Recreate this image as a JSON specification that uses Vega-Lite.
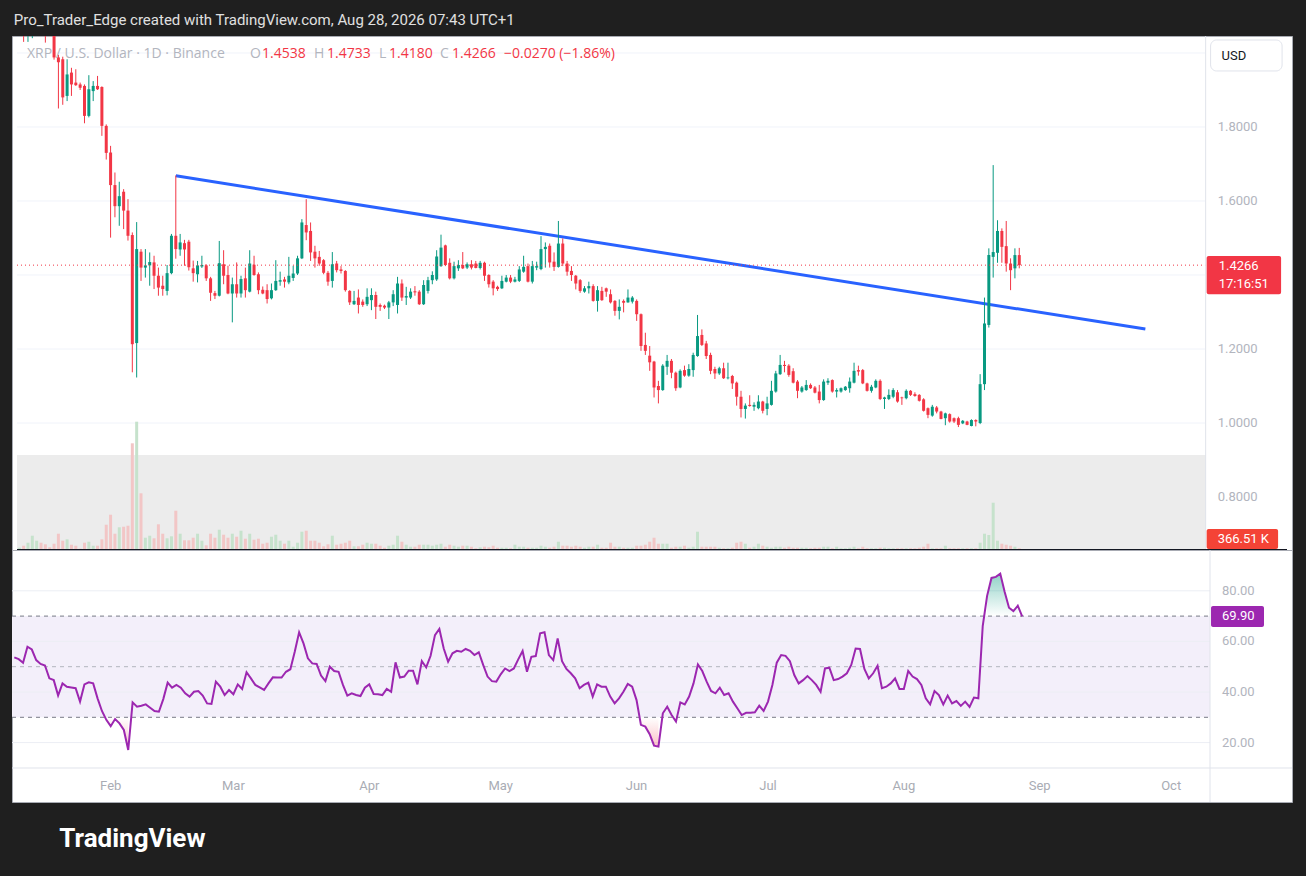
{
  "$schema": "https://vega.github.io/schema/vega-lite/v6.json",
  "background": "#1f1f1f",
  "padding": {"left": 9, "right": 13, "top": 13, "bottom": 24},
  "title": {"text": "Pro_Trader_Edge created with TradingView.com, Aug 28, 2026 07:43 UTC+1", "anchor": "start", "fontSize": 15, "fontWeight": "normal", "color": "#e0e0e0", "font": "Roboto", "offset": 7, "dx": 4},
  "config": {
    "view": {"fill": "white", "stroke": "#a8abb3", "strokeWidth": 1},
    "font": "Roboto",
    "text": {"font": "Roboto"}
  },
  "spacing": 0,
  "bounds": "flush",
  "datasets": {
    "xrp": [
      {"date":"2026-01-10","o":2.10,"h":2.14,"l":2.06,"c":2.12,"v":495,"rsi":53.7},
      {"date":"2026-01-11","o":2.12,"h":2.15,"l":2.03,"c":2.07,"v":925,"rsi":53.0},
      {"date":"2026-01-12","o":2.07,"h":2.11,"l":2.03,"c":2.09,"v":1570,"rsi":51.6},
      {"date":"2026-01-13","o":2.09,"h":2.16,"l":2.04,"c":2.14,"v":3075,"rsi":57.9},
      {"date":"2026-01-14","o":2.14,"h":2.22,"l":2.11,"c":2.18,"v":2000,"rsi":56.8},
      {"date":"2026-01-15","o":2.18,"h":2.20,"l":2.08,"c":2.10,"v":1570,"rsi":52.6},
      {"date":"2026-01-16","o":2.10,"h":2.13,"l":2.028,"c":2.07,"v":1225,"rsi":51.1},
      {"date":"2026-01-17","o":2.07,"h":2.10,"l":2.05,"c":2.06,"v":580,"rsi":50.5},
      {"date":"2026-01-18","o":2.06,"h":2.08,"l":1.982,"c":1.988,"v":1355,"rsi":45.4},
      {"date":"2026-01-19","o":1.988,"h":1.995,"l":1.850,"c":1.975,"v":3505,"rsi":44.7},
      {"date":"2026-01-20","o":1.983,"h":1.990,"l":1.860,"c":1.880,"v":2000,"rsi":38.6},
      {"date":"2026-01-21","o":1.884,"h":1.983,"l":1.870,"c":1.942,"v":2300,"rsi":43.4},
      {"date":"2026-01-22","o":1.947,"h":1.960,"l":1.884,"c":1.915,"v":1140,"rsi":42.1},
      {"date":"2026-01-23","o":1.920,"h":1.956,"l":1.911,"c":1.913,"v":925,"rsi":41.8},
      {"date":"2026-01-24","o":1.915,"h":1.920,"l":1.900,"c":1.906,"v":280,"rsi":41.5},
      {"date":"2026-01-25","o":1.911,"h":1.915,"l":1.810,"c":1.830,"v":1570,"rsi":36.2},
      {"date":"2026-01-26","o":1.830,"h":1.940,"l":1.826,"c":1.902,"v":1785,"rsi":43.0},
      {"date":"2026-01-27","o":1.897,"h":1.924,"l":1.870,"c":1.911,"v":925,"rsi":43.8},
      {"date":"2026-01-28","o":1.911,"h":1.938,"l":1.900,"c":1.902,"v":925,"rsi":43.4},
      {"date":"2026-01-29","o":1.908,"h":1.910,"l":1.776,"c":1.803,"v":2300,"rsi":37.5},
      {"date":"2026-01-30","o":1.803,"h":1.807,"l":1.712,"c":1.730,"v":5440,"rsi":32.5},
      {"date":"2026-01-31","o":1.731,"h":1.749,"l":1.501,"c":1.643,"v":7590,"rsi":29.0},
      {"date":"2026-02-01","o":1.643,"h":1.677,"l":1.556,"c":1.586,"v":3505,"rsi":26.5},
      {"date":"2026-02-02","o":1.586,"h":1.652,"l":1.533,"c":1.613,"v":4880,"rsi":29.3},
      {"date":"2026-02-03","o":1.625,"h":1.632,"l":1.524,"c":1.574,"v":5010,"rsi":27.6},
      {"date":"2026-02-04","o":1.574,"h":1.605,"l":1.493,"c":1.506,"v":5225,"rsi":25.0},
      {"date":"2026-02-05","o":1.508,"h":1.515,"l":1.137,"c":1.213,"v":22940,"rsi":17.1},
      {"date":"2026-02-06","o":1.216,"h":1.543,"l":1.123,"c":1.470,"v":27585,"rsi":35.9},
      {"date":"2026-02-07","o":1.463,"h":1.470,"l":1.384,"c":1.420,"v":12190,"rsi":34.2},
      {"date":"2026-02-08","o":1.420,"h":1.470,"l":1.393,"c":1.426,"v":2645,"rsi":34.6},
      {"date":"2026-02-09","o":1.426,"h":1.461,"l":1.371,"c":1.435,"v":3075,"rsi":35.1},
      {"date":"2026-02-10","o":1.434,"h":1.452,"l":1.362,"c":1.398,"v":2515,"rsi":33.8},
      {"date":"2026-02-11","o":1.398,"h":1.420,"l":1.344,"c":1.366,"v":5525,"rsi":32.5},
      {"date":"2026-02-12","o":1.371,"h":1.398,"l":1.344,"c":1.362,"v":3505,"rsi":32.2},
      {"date":"2026-02-13","o":1.357,"h":1.427,"l":1.345,"c":1.405,"v":2515,"rsi":37.2},
      {"date":"2026-02-14","o":1.405,"h":1.511,"l":1.402,"c":1.506,"v":2945,"rsi":43.7},
      {"date":"2026-02-15","o":1.506,"h":1.669,"l":1.444,"c":1.470,"v":8450,"rsi":41.7},
      {"date":"2026-02-16","o":1.469,"h":1.511,"l":1.452,"c":1.488,"v":3505,"rsi":42.8},
      {"date":"2026-02-17","o":1.486,"h":1.495,"l":1.425,"c":1.469,"v":2085,"rsi":41.7},
      {"date":"2026-02-18","o":1.490,"h":1.495,"l":1.412,"c":1.421,"v":2085,"rsi":39.5},
      {"date":"2026-02-19","o":1.418,"h":1.439,"l":1.382,"c":1.405,"v":2645,"rsi":38.2},
      {"date":"2026-02-20","o":1.402,"h":1.438,"l":1.380,"c":1.426,"v":3505,"rsi":40.1},
      {"date":"2026-02-21","o":1.423,"h":1.452,"l":1.419,"c":1.427,"v":2000,"rsi":40.4},
      {"date":"2026-02-22","o":1.426,"h":1.429,"l":1.384,"c":1.391,"v":1010,"rsi":38.6},
      {"date":"2026-02-23","o":1.391,"h":1.395,"l":1.330,"c":1.352,"v":3505,"rsi":35.5},
      {"date":"2026-02-24","o":1.351,"h":1.357,"l":1.335,"c":1.344,"v":2645,"rsi":35.3},
      {"date":"2026-02-25","o":1.344,"h":1.492,"l":1.342,"c":1.432,"v":4365,"rsi":44.1},
      {"date":"2026-02-26","o":1.429,"h":1.467,"l":1.375,"c":1.398,"v":3290,"rsi":42.1},
      {"date":"2026-02-27","o":1.400,"h":1.425,"l":1.348,"c":1.350,"v":2645,"rsi":38.8},
      {"date":"2026-02-28","o":1.350,"h":1.393,"l":1.272,"c":1.375,"v":3505,"rsi":40.8},
      {"date":"2026-03-01","o":1.375,"h":1.434,"l":1.339,"c":1.350,"v":2860,"rsi":39.1},
      {"date":"2026-03-02","o":1.350,"h":1.398,"l":1.339,"c":1.389,"v":4150,"rsi":43.0},
      {"date":"2026-03-03","o":1.391,"h":1.420,"l":1.339,"c":1.359,"v":2430,"rsi":41.2},
      {"date":"2026-03-04","o":1.355,"h":1.467,"l":1.353,"c":1.431,"v":3505,"rsi":47.8},
      {"date":"2026-03-05","o":1.428,"h":1.452,"l":1.398,"c":1.400,"v":2215,"rsi":45.4},
      {"date":"2026-03-06","o":1.402,"h":1.407,"l":1.348,"c":1.359,"v":2430,"rsi":42.8},
      {"date":"2026-03-07","o":1.360,"h":1.369,"l":1.348,"c":1.350,"v":1355,"rsi":41.8},
      {"date":"2026-03-08","o":1.359,"h":1.375,"l":1.323,"c":1.335,"v":1570,"rsi":40.8},
      {"date":"2026-03-09","o":1.337,"h":1.377,"l":1.334,"c":1.359,"v":2860,"rsi":43.4},
      {"date":"2026-03-10","o":1.359,"h":1.440,"l":1.357,"c":1.384,"v":3290,"rsi":45.8},
      {"date":"2026-03-11","o":1.382,"h":1.409,"l":1.371,"c":1.386,"v":2000,"rsi":45.7},
      {"date":"2026-03-12","o":1.388,"h":1.395,"l":1.366,"c":1.382,"v":1355,"rsi":45.7},
      {"date":"2026-03-13","o":1.380,"h":1.449,"l":1.375,"c":1.398,"v":2000,"rsi":48.0},
      {"date":"2026-03-14","o":1.392,"h":1.425,"l":1.384,"c":1.404,"v":710,"rsi":49.0},
      {"date":"2026-03-15","o":1.404,"h":1.452,"l":1.400,"c":1.445,"v":1570,"rsi":55.9},
      {"date":"2026-03-16","o":1.445,"h":1.551,"l":1.443,"c":1.542,"v":3935,"rsi":63.6},
      {"date":"2026-03-17","o":1.535,"h":1.605,"l":1.494,"c":1.515,"v":4150,"rsi":59.2},
      {"date":"2026-03-18","o":1.519,"h":1.542,"l":1.438,"c":1.461,"v":2000,"rsi":53.3},
      {"date":"2026-03-19","o":1.463,"h":1.479,"l":1.420,"c":1.445,"v":2000,"rsi":51.3},
      {"date":"2026-03-20","o":1.449,"h":1.465,"l":1.425,"c":1.431,"v":1570,"rsi":51.1},
      {"date":"2026-03-21","o":1.440,"h":1.443,"l":1.402,"c":1.406,"v":795,"rsi":46.5},
      {"date":"2026-03-22","o":1.406,"h":1.411,"l":1.371,"c":1.382,"v":1225,"rsi":44.3},
      {"date":"2026-03-23","o":1.384,"h":1.462,"l":1.366,"c":1.429,"v":3075,"rsi":50.0},
      {"date":"2026-03-24","o":1.431,"h":1.438,"l":1.407,"c":1.413,"v":1140,"rsi":48.3},
      {"date":"2026-03-25","o":1.415,"h":1.424,"l":1.404,"c":1.411,"v":1355,"rsi":48.0},
      {"date":"2026-03-26","o":1.411,"h":1.413,"l":1.355,"c":1.359,"v":1570,"rsi":42.8},
      {"date":"2026-03-27","o":1.357,"h":1.359,"l":1.319,"c":1.326,"v":2000,"rsi":38.6},
      {"date":"2026-03-28","o":1.321,"h":1.357,"l":1.319,"c":1.330,"v":795,"rsi":39.5},
      {"date":"2026-03-29","o":1.339,"h":1.361,"l":1.296,"c":1.319,"v":795,"rsi":38.8},
      {"date":"2026-03-30","o":1.328,"h":1.334,"l":1.314,"c":1.319,"v":1140,"rsi":38.4},
      {"date":"2026-03-31","o":1.321,"h":1.364,"l":1.316,"c":1.341,"v":1570,"rsi":41.7},
      {"date":"2026-04-01","o":1.332,"h":1.364,"l":1.305,"c":1.346,"v":1355,"rsi":43.0},
      {"date":"2026-04-02","o":1.346,"h":1.355,"l":1.281,"c":1.314,"v":1355,"rsi":39.2},
      {"date":"2026-04-03","o":1.319,"h":1.323,"l":1.303,"c":1.314,"v":925,"rsi":39.1},
      {"date":"2026-04-04","o":1.317,"h":1.320,"l":1.308,"c":1.312,"v":495,"rsi":38.8},
      {"date":"2026-04-05","o":1.312,"h":1.330,"l":1.281,"c":1.326,"v":925,"rsi":41.2},
      {"date":"2026-04-06","o":1.326,"h":1.359,"l":1.316,"c":1.348,"v":1140,"rsi":40.1},
      {"date":"2026-04-07","o":1.319,"h":1.395,"l":1.296,"c":1.377,"v":3075,"rsi":51.7},
      {"date":"2026-04-08","o":1.377,"h":1.388,"l":1.330,"c":1.339,"v":1785,"rsi":45.7},
      {"date":"2026-04-09","o":1.339,"h":1.368,"l":1.319,"c":1.343,"v":1140,"rsi":46.1},
      {"date":"2026-04-10","o":1.339,"h":1.364,"l":1.335,"c":1.355,"v":710,"rsi":48.4},
      {"date":"2026-04-11","o":1.356,"h":1.370,"l":1.344,"c":1.353,"v":710,"rsi":48.4},
      {"date":"2026-04-12","o":1.355,"h":1.359,"l":1.319,"c":1.321,"v":1140,"rsi":43.0},
      {"date":"2026-04-13","o":1.321,"h":1.386,"l":1.319,"c":1.373,"v":1140,"rsi":52.2},
      {"date":"2026-04-14","o":1.357,"h":1.395,"l":1.350,"c":1.386,"v":1140,"rsi":49.7},
      {"date":"2026-04-15","o":1.386,"h":1.410,"l":1.375,"c":1.400,"v":925,"rsi":54.3},
      {"date":"2026-04-16","o":1.388,"h":1.467,"l":1.384,"c":1.450,"v":1140,"rsi":62.5},
      {"date":"2026-04-17","o":1.424,"h":1.509,"l":1.422,"c":1.474,"v":1355,"rsi":64.9},
      {"date":"2026-04-18","o":1.480,"h":1.482,"l":1.424,"c":1.427,"v":710,"rsi":57.2},
      {"date":"2026-04-19","o":1.433,"h":1.445,"l":1.388,"c":1.391,"v":1140,"rsi":52.0},
      {"date":"2026-04-20","o":1.391,"h":1.436,"l":1.388,"c":1.424,"v":925,"rsi":55.3},
      {"date":"2026-04-21","o":1.418,"h":1.440,"l":1.411,"c":1.427,"v":710,"rsi":56.3},
      {"date":"2026-04-22","o":1.427,"h":1.462,"l":1.416,"c":1.418,"v":925,"rsi":55.9},
      {"date":"2026-04-23","o":1.420,"h":1.434,"l":1.416,"c":1.429,"v":925,"rsi":57.0},
      {"date":"2026-04-24","o":1.429,"h":1.440,"l":1.415,"c":1.420,"v":710,"rsi":56.3},
      {"date":"2026-04-25","o":1.431,"h":1.438,"l":1.418,"c":1.419,"v":365,"rsi":54.6},
      {"date":"2026-04-26","o":1.419,"h":1.438,"l":1.415,"c":1.433,"v":580,"rsi":55.7},
      {"date":"2026-04-27","o":1.433,"h":1.436,"l":1.384,"c":1.398,"v":710,"rsi":50.7},
      {"date":"2026-04-28","o":1.400,"h":1.402,"l":1.366,"c":1.375,"v":580,"rsi":46.1},
      {"date":"2026-04-29","o":1.382,"h":1.386,"l":1.345,"c":1.364,"v":925,"rsi":44.3},
      {"date":"2026-04-30","o":1.368,"h":1.371,"l":1.357,"c":1.362,"v":495,"rsi":44.1},
      {"date":"2026-05-01","o":1.364,"h":1.398,"l":1.362,"c":1.384,"v":495,"rsi":47.0},
      {"date":"2026-05-02","o":1.382,"h":1.400,"l":1.380,"c":1.393,"v":495,"rsi":49.3},
      {"date":"2026-05-03","o":1.393,"h":1.400,"l":1.378,"c":1.382,"v":365,"rsi":48.3},
      {"date":"2026-05-04","o":1.382,"h":1.395,"l":1.380,"c":1.388,"v":1140,"rsi":49.3},
      {"date":"2026-05-05","o":1.384,"h":1.424,"l":1.381,"c":1.415,"v":710,"rsi":52.9},
      {"date":"2026-05-06","o":1.409,"h":1.452,"l":1.406,"c":1.422,"v":710,"rsi":56.2},
      {"date":"2026-05-07","o":1.424,"h":1.431,"l":1.380,"c":1.382,"v":495,"rsi":48.0},
      {"date":"2026-05-08","o":1.382,"h":1.438,"l":1.377,"c":1.424,"v":495,"rsi":53.9},
      {"date":"2026-05-09","o":1.420,"h":1.436,"l":1.413,"c":1.424,"v":495,"rsi":54.2},
      {"date":"2026-05-10","o":1.416,"h":1.505,"l":1.413,"c":1.470,"v":925,"rsi":63.2},
      {"date":"2026-05-11","o":1.470,"h":1.488,"l":1.420,"c":1.476,"v":710,"rsi":63.6},
      {"date":"2026-05-12","o":1.479,"h":1.485,"l":1.420,"c":1.434,"v":495,"rsi":54.6},
      {"date":"2026-05-13","o":1.436,"h":1.461,"l":1.411,"c":1.422,"v":710,"rsi":52.6},
      {"date":"2026-05-14","o":1.422,"h":1.546,"l":1.420,"c":1.485,"v":1785,"rsi":61.2},
      {"date":"2026-05-15","o":1.485,"h":1.499,"l":1.424,"c":1.431,"v":925,"rsi":52.2},
      {"date":"2026-05-16","o":1.431,"h":1.438,"l":1.398,"c":1.409,"v":925,"rsi":49.1},
      {"date":"2026-05-17","o":1.411,"h":1.424,"l":1.384,"c":1.400,"v":710,"rsi":47.4},
      {"date":"2026-05-18","o":1.398,"h":1.400,"l":1.361,"c":1.377,"v":925,"rsi":45.4},
      {"date":"2026-05-19","o":1.386,"h":1.389,"l":1.352,"c":1.357,"v":710,"rsi":41.5},
      {"date":"2026-05-20","o":1.355,"h":1.370,"l":1.352,"c":1.364,"v":495,"rsi":42.8},
      {"date":"2026-05-21","o":1.364,"h":1.382,"l":1.350,"c":1.370,"v":710,"rsi":43.7},
      {"date":"2026-05-22","o":1.370,"h":1.375,"l":1.328,"c":1.330,"v":710,"rsi":38.2},
      {"date":"2026-05-23","o":1.330,"h":1.370,"l":1.301,"c":1.359,"v":1140,"rsi":43.0},
      {"date":"2026-05-24","o":1.357,"h":1.368,"l":1.330,"c":1.332,"v":495,"rsi":42.1},
      {"date":"2026-05-25","o":1.364,"h":1.366,"l":1.341,"c":1.355,"v":495,"rsi":42.1},
      {"date":"2026-05-26","o":1.348,"h":1.361,"l":1.323,"c":1.326,"v":1570,"rsi":38.2},
      {"date":"2026-05-27","o":1.330,"h":1.332,"l":1.290,"c":1.303,"v":710,"rsi":35.5},
      {"date":"2026-05-28","o":1.303,"h":1.334,"l":1.280,"c":1.314,"v":710,"rsi":37.5},
      {"date":"2026-05-29","o":1.330,"h":1.334,"l":1.299,"c":1.325,"v":495,"rsi":40.1},
      {"date":"2026-05-30","o":1.326,"h":1.361,"l":1.325,"c":1.339,"v":495,"rsi":43.2},
      {"date":"2026-05-31","o":1.328,"h":1.343,"l":1.323,"c":1.339,"v":495,"rsi":42.1},
      {"date":"2026-06-01","o":1.330,"h":1.334,"l":1.276,"c":1.294,"v":925,"rsi":36.8},
      {"date":"2026-06-02","o":1.294,"h":1.296,"l":1.195,"c":1.208,"v":925,"rsi":27.0},
      {"date":"2026-06-03","o":1.211,"h":1.244,"l":1.184,"c":1.195,"v":1140,"rsi":26.3},
      {"date":"2026-06-04","o":1.182,"h":1.208,"l":1.141,"c":1.164,"v":1785,"rsi":23.3},
      {"date":"2026-06-05","o":1.166,"h":1.168,"l":1.069,"c":1.096,"v":2645,"rsi":18.8},
      {"date":"2026-06-06","o":1.100,"h":1.114,"l":1.053,"c":1.089,"v":1355,"rsi":18.4},
      {"date":"2026-06-07","o":1.089,"h":1.159,"l":1.087,"c":1.155,"v":1355,"rsi":31.6},
      {"date":"2026-06-08","o":1.152,"h":1.184,"l":1.130,"c":1.168,"v":1355,"rsi":34.2},
      {"date":"2026-06-09","o":1.168,"h":1.173,"l":1.121,"c":1.136,"v":495,"rsi":30.9},
      {"date":"2026-06-10","o":1.136,"h":1.139,"l":1.087,"c":1.094,"v":710,"rsi":28.3},
      {"date":"2026-06-11","o":1.096,"h":1.145,"l":1.094,"c":1.141,"v":710,"rsi":35.9},
      {"date":"2026-06-12","o":1.143,"h":1.155,"l":1.125,"c":1.128,"v":925,"rsi":35.1},
      {"date":"2026-06-13","o":1.128,"h":1.159,"l":1.125,"c":1.146,"v":495,"rsi":38.2},
      {"date":"2026-06-14","o":1.143,"h":1.190,"l":1.125,"c":1.184,"v":710,"rsi":43.4},
      {"date":"2026-06-15","o":1.181,"h":1.292,"l":1.179,"c":1.235,"v":3935,"rsi":50.9},
      {"date":"2026-06-16","o":1.238,"h":1.253,"l":1.208,"c":1.211,"v":710,"rsi":48.3},
      {"date":"2026-06-17","o":1.215,"h":1.222,"l":1.173,"c":1.181,"v":710,"rsi":44.1},
      {"date":"2026-06-18","o":1.184,"h":1.190,"l":1.132,"c":1.141,"v":710,"rsi":40.4},
      {"date":"2026-06-19","o":1.146,"h":1.152,"l":1.119,"c":1.134,"v":710,"rsi":39.5},
      {"date":"2026-06-20","o":1.134,"h":1.152,"l":1.130,"c":1.148,"v":495,"rsi":41.7},
      {"date":"2026-06-21","o":1.148,"h":1.163,"l":1.119,"c":1.121,"v":365,"rsi":38.8},
      {"date":"2026-06-22","o":1.121,"h":1.163,"l":1.118,"c":1.123,"v":365,"rsi":39.5},
      {"date":"2026-06-23","o":1.127,"h":1.130,"l":1.092,"c":1.107,"v":495,"rsi":36.2},
      {"date":"2026-06-24","o":1.109,"h":1.112,"l":1.047,"c":1.071,"v":1570,"rsi":33.6},
      {"date":"2026-06-25","o":1.071,"h":1.087,"l":1.015,"c":1.038,"v":1785,"rsi":30.9},
      {"date":"2026-06-26","o":1.038,"h":1.053,"l":1.012,"c":1.047,"v":1355,"rsi":31.8},
      {"date":"2026-06-27","o":1.049,"h":1.075,"l":1.044,"c":1.046,"v":495,"rsi":31.8},
      {"date":"2026-06-28","o":1.044,"h":1.056,"l":1.033,"c":1.049,"v":710,"rsi":32.0},
      {"date":"2026-06-29","o":1.040,"h":1.075,"l":1.037,"c":1.058,"v":1355,"rsi":34.6},
      {"date":"2026-06-30","o":1.058,"h":1.060,"l":1.026,"c":1.033,"v":925,"rsi":32.5},
      {"date":"2026-07-01","o":1.038,"h":1.071,"l":1.021,"c":1.053,"v":710,"rsi":36.2},
      {"date":"2026-07-02","o":1.049,"h":1.114,"l":1.047,"c":1.087,"v":495,"rsi":42.8},
      {"date":"2026-07-03","o":1.085,"h":1.141,"l":1.082,"c":1.134,"v":710,"rsi":51.6},
      {"date":"2026-07-04","o":1.132,"h":1.184,"l":1.130,"c":1.157,"v":710,"rsi":54.6},
      {"date":"2026-07-05","o":1.157,"h":1.168,"l":1.137,"c":1.154,"v":495,"rsi":54.3},
      {"date":"2026-07-06","o":1.155,"h":1.159,"l":1.125,"c":1.130,"v":710,"rsi":52.2},
      {"date":"2026-07-07","o":1.140,"h":1.148,"l":1.107,"c":1.109,"v":495,"rsi":46.7},
      {"date":"2026-07-08","o":1.112,"h":1.116,"l":1.067,"c":1.087,"v":495,"rsi":43.4},
      {"date":"2026-07-09","o":1.085,"h":1.100,"l":1.082,"c":1.096,"v":495,"rsi":44.7},
      {"date":"2026-07-10","o":1.089,"h":1.116,"l":1.087,"c":1.103,"v":495,"rsi":46.3},
      {"date":"2026-07-11","o":1.103,"h":1.107,"l":1.092,"c":1.094,"v":365,"rsi":44.7},
      {"date":"2026-07-12","o":1.096,"h":1.100,"l":1.080,"c":1.082,"v":495,"rsi":42.8},
      {"date":"2026-07-13","o":1.085,"h":1.103,"l":1.053,"c":1.062,"v":495,"rsi":40.1},
      {"date":"2026-07-14","o":1.062,"h":1.118,"l":1.060,"c":1.112,"v":710,"rsi":49.3},
      {"date":"2026-07-15","o":1.109,"h":1.121,"l":1.103,"c":1.114,"v":710,"rsi":49.6},
      {"date":"2026-07-16","o":1.116,"h":1.118,"l":1.082,"c":1.085,"v":365,"rsi":44.7},
      {"date":"2026-07-17","o":1.085,"h":1.094,"l":1.069,"c":1.089,"v":710,"rsi":45.1},
      {"date":"2026-07-18","o":1.085,"h":1.096,"l":1.082,"c":1.094,"v":365,"rsi":46.1},
      {"date":"2026-07-19","o":1.089,"h":1.100,"l":1.087,"c":1.098,"v":365,"rsi":47.4},
      {"date":"2026-07-20","o":1.094,"h":1.123,"l":1.082,"c":1.112,"v":495,"rsi":50.7},
      {"date":"2026-07-21","o":1.109,"h":1.163,"l":1.107,"c":1.141,"v":710,"rsi":57.2},
      {"date":"2026-07-22","o":1.143,"h":1.155,"l":1.128,"c":1.139,"v":365,"rsi":57.0},
      {"date":"2026-07-23","o":1.143,"h":1.146,"l":1.105,"c":1.107,"v":710,"rsi":49.1},
      {"date":"2026-07-24","o":1.107,"h":1.109,"l":1.085,"c":1.087,"v":365,"rsi":45.4},
      {"date":"2026-07-25","o":1.087,"h":1.103,"l":1.082,"c":1.098,"v":365,"rsi":47.4},
      {"date":"2026-07-26","o":1.096,"h":1.118,"l":1.094,"c":1.114,"v":365,"rsi":50.4},
      {"date":"2026-07-27","o":1.114,"h":1.118,"l":1.062,"c":1.065,"v":495,"rsi":41.5},
      {"date":"2026-07-28","o":1.065,"h":1.071,"l":1.038,"c":1.069,"v":495,"rsi":42.1},
      {"date":"2026-07-29","o":1.065,"h":1.091,"l":1.062,"c":1.076,"v":365,"rsi":43.4},
      {"date":"2026-07-30","o":1.071,"h":1.094,"l":1.067,"c":1.089,"v":365,"rsi":45.4},
      {"date":"2026-07-31","o":1.083,"h":1.089,"l":1.055,"c":1.058,"v":365,"rsi":41.2},
      {"date":"2026-08-01","o":1.069,"h":1.071,"l":1.049,"c":1.067,"v":365,"rsi":41.2},
      {"date":"2026-08-02","o":1.067,"h":1.091,"l":1.064,"c":1.087,"v":365,"rsi":48.3},
      {"date":"2026-08-03","o":1.087,"h":1.089,"l":1.073,"c":1.076,"v":365,"rsi":46.1},
      {"date":"2026-08-04","o":1.078,"h":1.083,"l":1.071,"c":1.073,"v":365,"rsi":45.1},
      {"date":"2026-08-05","o":1.076,"h":1.078,"l":1.058,"c":1.060,"v":495,"rsi":42.8},
      {"date":"2026-08-06","o":1.064,"h":1.067,"l":1.031,"c":1.033,"v":710,"rsi":37.5},
      {"date":"2026-08-07","o":1.040,"h":1.042,"l":1.013,"c":1.022,"v":1355,"rsi":35.1},
      {"date":"2026-08-08","o":1.020,"h":1.049,"l":1.017,"c":1.044,"v":365,"rsi":40.4},
      {"date":"2026-08-09","o":1.042,"h":1.046,"l":1.026,"c":1.031,"v":365,"rsi":38.8},
      {"date":"2026-08-10","o":1.031,"h":1.033,"l":1.010,"c":1.011,"v":365,"rsi":35.1},
      {"date":"2026-08-11","o":1.013,"h":1.028,"l":0.994,"c":1.026,"v":925,"rsi":38.6},
      {"date":"2026-08-12","o":1.024,"h":1.026,"l":1.001,"c":1.004,"v":365,"rsi":35.5},
      {"date":"2026-08-13","o":1.013,"h":1.015,"l":1.000,"c":1.004,"v":365,"rsi":36.4},
      {"date":"2026-08-14","o":1.013,"h":1.017,"l":0.989,"c":0.995,"v":365,"rsi":34.5},
      {"date":"2026-08-15","o":0.999,"h":1.008,"l":0.997,"c":1.006,"v":365,"rsi":36.2},
      {"date":"2026-08-16","o":1.004,"h":1.006,"l":0.994,"c":0.995,"v":365,"rsi":34.1},
      {"date":"2026-08-17","o":0.992,"h":1.010,"l":0.991,"c":1.008,"v":365,"rsi":37.8},
      {"date":"2026-08-18","o":1.008,"h":1.010,"l":0.991,"c":1.004,"v":365,"rsi":37.5},
      {"date":"2026-08-19","o":1.000,"h":1.132,"l":0.997,"c":1.105,"v":1570,"rsi":66.0},
      {"date":"2026-08-20","o":1.105,"h":1.339,"l":1.089,"c":1.269,"v":3505,"rsi":78.0},
      {"date":"2026-08-21","o":1.265,"h":1.472,"l":1.258,"c":1.454,"v":3225,"rsi":85.1},
      {"date":"2026-08-22","o":1.449,"h":1.697,"l":1.393,"c":1.462,"v":10170,"rsi":85.5},
      {"date":"2026-08-23","o":1.460,"h":1.548,"l":1.433,"c":1.519,"v":2000,"rsi":86.8},
      {"date":"2026-08-24","o":1.519,"h":1.526,"l":1.433,"c":1.476,"v":1355,"rsi":79.6},
      {"date":"2026-08-25","o":1.478,"h":1.546,"l":1.409,"c":1.431,"v":1140,"rsi":73.3},
      {"date":"2026-08-26","o":1.431,"h":1.445,"l":1.359,"c":1.413,"v":925,"rsi":72.0},
      {"date":"2026-08-27","o":1.418,"h":1.472,"l":1.391,"c":1.4538,"v":710,"rsi":74.1},
      {"date":"2026-08-28","o":1.4538,"h":1.4733,"l":1.4180,"c":1.4266,"v":366.51,"rsi":69.9}
    ]
  },
  "vconcat": [
    {
      "width": 1280,
      "height": 514,
      "layer": [
        {
          "data": {"values": [{"p": 0.8}, {"p": 1.0}, {"p": 1.2}, {"p": 1.4}, {"p": 1.6}, {"p": 1.8}, {"p": 2.0}]},
          "layer": [
            {
              "mark": {"type": "rule", "color": "#f0f3fa", "strokeWidth": 1},
              "encoding": {
                "x": {"datum": {"year": 2026, "month": 1, "date": 9, "hours": 11, "minutes": 25, "utc": true}, "type": "temporal", "scale": {"type": "utc", "domain": [{"year": 2026, "month": 1, "date": 9, "hours": 11, "minutes": 25, "utc": true}, {"year": 2026, "month": 10, "date": 28, "hours": 13, "minutes": 55, "utc": true}]}, "axis": null},
                "x2": {"datum": {"year": 2026, "month": 10, "date": 9, "hours": 20, "minutes": 53, "utc": true}},
                "y": {"field": "p", "type": "quantitative", "scale": {"domain": [0.6568, 2.0459], "nice": false, "zero": false}, "axis": null}
              }
            },
            {
              "data": {"values": [{}]},
              "mark": {"type": "rect", "color": "#ececec"},
              "encoding": {
                "x": {"datum": {"year": 2026, "month": 1, "date": 9, "hours": 11, "minutes": 25, "utc": true}, "type": "temporal", "axis": null},
                "x2": {"datum": {"year": 2026, "month": 10, "date": 9, "hours": 20, "minutes": 53, "utc": true}},
                "y": {"datum": 0.9135, "type": "quantitative", "scale": {"domain": [0.6568, 2.0459], "nice": false, "zero": false}, "axis": null},
                "y2": {"datum": 0.6568}
              }
            }
          ]
        },
        {
          "data": {"name": "xrp"},
          "mark": {"type": "bar", "width": 3, "opacity": 1},
          "encoding": {
            "x": {"field": "date", "type": "temporal", "axis": null},
            "y": {"field": "v", "type": "quantitative", "scale": {"domain": [0, 110510], "nice": false}, "axis": null},
            "color": {"condition": {"test": "datum.c >= datum.o", "value": "#c6e2cc"}, "value": "#f2c6c6"}
          }
        },
        {
          "layer": [
            {
              "data": {"values": [{}]},
              "encoding": {
                "x": {"datum": {"year": 2026, "month": 1, "date": 9, "hours": 11, "minutes": 25, "utc": true}, "type": "temporal", "axis": null},
                "y": {"datum": 1.9973, "type": "quantitative", "scale": {"domain": [0.6568, 2.0459], "nice": false, "zero": false}, "axis": null}
              },
              "layer": [
                {"mark": {"type": "text", "text": "XRP / U.S. Dollar · 1D · Binance", "font": "Open Sans", "align": "left", "baseline": "middle", "fontSize": 14, "color": "#b2b5be", "dx": 10}},
                {"mark": {"type": "text", "text": "O", "font": "Open Sans", "align": "left", "baseline": "middle", "fontSize": 14, "color": "#b2b5be", "dx": 233}},
                {"mark": {"type": "text", "text": "1.4538", "font": "Open Sans", "align": "left", "baseline": "middle", "fontSize": 14, "color": "#f23645", "dx": 245}},
                {"mark": {"type": "text", "text": "H", "font": "Open Sans", "align": "left", "baseline": "middle", "fontSize": 14, "color": "#b2b5be", "dx": 297}},
                {"mark": {"type": "text", "text": "1.4733", "font": "Open Sans", "align": "left", "baseline": "middle", "fontSize": 14, "color": "#f23645", "dx": 310}},
                {"mark": {"type": "text", "text": "L", "font": "Open Sans", "align": "left", "baseline": "middle", "fontSize": 14, "color": "#b2b5be", "dx": 362}},
                {"mark": {"type": "text", "text": "1.4180", "font": "Open Sans", "align": "left", "baseline": "middle", "fontSize": 14, "color": "#f23645", "dx": 372}},
                {"mark": {"type": "text", "text": "C", "font": "Open Sans", "align": "left", "baseline": "middle", "fontSize": 14, "color": "#b2b5be", "dx": 423}},
                {"mark": {"type": "text", "text": "1.4266", "font": "Open Sans", "align": "left", "baseline": "middle", "fontSize": 14, "color": "#f23645", "dx": 435}},
                {"mark": {"type": "text", "text": "−0.0270 (−1.86%)", "font": "Open Sans", "align": "left", "baseline": "middle", "fontSize": 14, "color": "#f23645", "dx": 487}}
              ]
            },
            {
              "data": {"values": [{"date": "2026-02-15", "p": 1.668}, {"date": "2026-09-26", "p": 1.254}]},
              "mark": {"type": "line", "color": "#2962ff", "strokeWidth": 3},
              "encoding": {
                "x": {"field": "date", "type": "temporal", "axis": null},
                "y": {"field": "p", "type": "quantitative", "scale": {"domain": [0.6568, 2.0459], "nice": false, "zero": false}, "axis": null}
              }
            },
            {
              "data": {"name": "xrp"},
              "mark": {"type": "rule", "strokeWidth": 1, "clip": true},
              "encoding": {
                "x": {"field": "date", "type": "temporal", "axis": null},
                "y": {"field": "l", "type": "quantitative", "scale": {"domain": [0.6568, 2.0459], "nice": false, "zero": false}, "axis": null},
                "y2": {"field": "h"},
                "color": {"condition": {"test": "datum.c >= datum.o", "value": "#089981"}, "value": "#f23645"}
              }
            },
            {
              "data": {"name": "xrp"},
              "mark": {"type": "bar", "width": 3, "clip": true, "opacity": 1},
              "encoding": {
                "x": {"field": "date", "type": "temporal", "axis": null},
                "y": {"field": "o", "type": "quantitative", "scale": {"domain": [0.6568, 2.0459], "nice": false, "zero": false}, "axis": null},
                "y2": {"field": "c"},
                "color": {"condition": {"test": "datum.c >= datum.o", "value": "#089981"}, "value": "#f23645"}
              }
            },
            {
              "data": {"values": [{}]},
              "mark": {"type": "rule", "color": "#f23645", "strokeWidth": 1, "strokeDash": [1, 3]},
              "encoding": {
                "x": {"datum": {"year": 2026, "month": 1, "date": 9, "hours": 11, "minutes": 25, "utc": true}, "type": "temporal", "axis": null},
                "x2": {"datum": {"year": 2026, "month": 10, "date": 9, "hours": 20, "minutes": 53, "utc": true}},
                "y": {"datum": 1.4266, "type": "quantitative", "scale": {"domain": [0.6568, 2.0459], "nice": false, "zero": false}, "axis": null}
              }
            },
            {
              "data": {"values": [{}]},
              "mark": {"type": "rule", "color": "#e0e3eb", "strokeWidth": 1},
              "encoding": {
                "x": {"datum": {"year": 2026, "month": 10, "date": 9, "hours": 20, "minutes": 53, "utc": true}, "type": "temporal", "axis": null}
              }
            },
            {
              "data": {"values": [{}]},
              "mark": {"type": "rule", "color": "#131722", "strokeWidth": 2},
              "encoding": {
                "x": {"datum": {"year": 2026, "month": 1, "date": 9, "hours": 11, "minutes": 25, "utc": true}, "type": "temporal", "axis": null},
                "x2": {"datum": {"year": 2026, "month": 10, "date": 28, "hours": 13, "minutes": 55, "utc": true}},
                "y": {"datum": 0.6568, "type": "quantitative", "scale": {"domain": [0.6568, 2.0459], "nice": false, "zero": false}, "axis": null}
              }
            },
            {
              "data": {"values": [{"p": 0.8}, {"p": 1.0}, {"p": 1.2}, {"p": 1.6}, {"p": 1.8}]},
              "mark": {"type": "text", "align": "left", "baseline": "middle", "fontSize": 13, "color": "#b2b5be", "dx": 11},
              "encoding": {
                "x": {"datum": {"year": 2026, "month": 10, "date": 10, "hours": 2, "minutes": 24, "utc": true}, "type": "temporal", "axis": null},
                "y": {"field": "p", "type": "quantitative", "scale": {"domain": [0.6568, 2.0459], "nice": false, "zero": false}, "axis": null},
                "text": {"field": "p", "type": "quantitative", "format": ".4f"}
              }
            },
            {
              "data": {"values": [{}]},
              "layer": [
                {
                  "mark": {"type": "rect", "color": "#f23645", "cornerRadius": 2},
                  "encoding": {
                    "x": {"datum": {"year": 2026, "month": 10, "date": 10, "hours": 2, "minutes": 24, "utc": true}, "type": "temporal", "axis": null},
                    "x2": {"datum": {"year": 2026, "month": 10, "date": 27, "hours": 5, "minutes": 17, "utc": true}},
                    "y": {"datum": 1.4514, "type": "quantitative", "scale": {"domain": [0.6568, 2.0459], "nice": false, "zero": false}, "axis": null},
                    "y2": {"datum": 1.3478}
                  }
                },
                {
                  "mark": {"type": "text", "text": "1.4266", "align": "left", "baseline": "middle", "fontSize": 13, "color": "white", "dx": 12},
                  "encoding": {
                    "x": {"datum": {"year": 2026, "month": 10, "date": 10, "hours": 2, "minutes": 24, "utc": true}, "type": "temporal", "axis": null},
                    "y": {"datum": 1.4243, "type": "quantitative", "scale": {"domain": [0.6568, 2.0459], "nice": false, "zero": false}, "axis": null}
                  }
                },
                {
                  "mark": {"type": "text", "text": "17:16:51", "align": "left", "baseline": "middle", "fontSize": 13, "color": "white", "dx": 12},
                  "encoding": {
                    "x": {"datum": {"year": 2026, "month": 10, "date": 10, "hours": 2, "minutes": 24, "utc": true}, "type": "temporal", "axis": null},
                    "y": {"datum": 1.3749, "type": "quantitative", "scale": {"domain": [0.6568, 2.0459], "nice": false, "zero": false}, "axis": null}
                  }
                },
                {
                  "mark": {"type": "rect", "color": "#f44336", "cornerRadius": 2},
                  "encoding": {
                    "x": {"datum": {"year": 2026, "month": 10, "date": 10, "hours": 2, "minutes": 24, "utc": true}, "type": "temporal", "axis": null},
                    "x2": {"datum": {"year": 2026, "month": 10, "date": 26, "hours": 12, "minutes": 43, "utc": true}},
                    "y": {"datum": 0.7135, "type": "quantitative", "scale": {"domain": [0.6568, 2.0459], "nice": false, "zero": false}, "axis": null},
                    "y2": {"datum": 0.6595}
                  }
                },
                {
                  "mark": {"type": "text", "text": "366.51 K", "align": "left", "baseline": "middle", "fontSize": 13, "color": "white", "dx": 11},
                  "encoding": {
                    "x": {"datum": {"year": 2026, "month": 10, "date": 10, "hours": 2, "minutes": 24, "utc": true}, "type": "temporal", "axis": null},
                    "y": {"datum": 0.6865, "type": "quantitative", "scale": {"domain": [0.6568, 2.0459], "nice": false, "zero": false}, "axis": null}
                  }
                },
                {
                  "mark": {"type": "rect", "fill": "white", "stroke": "#e0e3eb", "strokeWidth": 1, "cornerRadius": 6},
                  "encoding": {
                    "x": {"datum": {"year": 2026, "month": 10, "date": 11, "hours": 0, "minutes": 14, "utc": true}, "type": "temporal", "axis": null},
                    "x2": {"datum": {"year": 2026, "month": 10, "date": 27, "hours": 10, "minutes": 48, "utc": true}},
                    "y": {"datum": 2.0351, "type": "quantitative", "scale": {"domain": [0.6568, 2.0459], "nice": false, "zero": false}, "axis": null},
                    "y2": {"datum": 1.9514}
                  }
                },
                {
                  "mark": {"type": "text", "text": "USD", "align": "left", "baseline": "middle", "fontSize": 13, "color": "#131722", "dx": 11},
                  "encoding": {
                    "x": {"datum": {"year": 2026, "month": 10, "date": 11, "hours": 0, "minutes": 14, "utc": true}, "type": "temporal", "axis": null},
                    "y": {"datum": 1.9919, "type": "quantitative", "scale": {"domain": [0.6568, 2.0459], "nice": false, "zero": false}, "axis": null}
                  }
                }
              ]
            }
          ]
        }
      ],
      "resolve": {"scale": {"y": "independent"}}
    },
    {
      "width": 1280,
      "height": 252,
      "title": {"text": "TradingView", "orient": "bottom", "anchor": "start", "offset": 23, "dx": 49, "fontSize": 26, "fontWeight": "bold", "color": "#ffffff", "font": "Roboto"},
      "layer": [
        {
          "data": {"values": [{}]},
          "mark": {"type": "rect", "color": "#f3effa"},
          "encoding": {
            "x": {"datum": {"year": 2026, "month": 1, "date": 9, "hours": 11, "minutes": 25, "utc": true}, "type": "temporal", "scale": {"type": "utc", "domain": [{"year": 2026, "month": 1, "date": 9, "hours": 11, "minutes": 25, "utc": true}, {"year": 2026, "month": 10, "date": 28, "hours": 13, "minutes": 55, "utc": true}]}, "axis": null},
            "x2": {"datum": {"year": 2026, "month": 10, "date": 9, "hours": 20, "minutes": 53, "utc": true}},
            "y": {"datum": 70, "type": "quantitative", "scale": {"domain": [-3.48, 96.13], "nice": false, "zero": false}, "axis": null},
            "y2": {"datum": 30}
          }
        },
        {
          "data": {"values": [{"lv": 20}, {"lv": 40}, {"lv": 60}, {"lv": 80}]},
          "mark": {"type": "rule", "color": "#eceef4", "strokeWidth": 1},
          "encoding": {
            "x": {"datum": {"year": 2026, "month": 1, "date": 9, "hours": 11, "minutes": 25, "utc": true}, "type": "temporal", "axis": null},
            "x2": {"datum": {"year": 2026, "month": 10, "date": 9, "hours": 20, "minutes": 53, "utc": true}},
            "y": {"field": "lv", "type": "quantitative", "scale": {"domain": [-3.48, 96.13], "nice": false, "zero": false}, "axis": null}
          }
        },
        {
          "data": {"values": [{"lv": 70}, {"lv": 30}]},
          "mark": {"type": "rule", "color": "#787b86", "strokeWidth": 1, "strokeDash": [4, 4]},
          "encoding": {
            "x": {"datum": {"year": 2026, "month": 1, "date": 9, "hours": 11, "minutes": 25, "utc": true}, "type": "temporal", "axis": null},
            "x2": {"datum": {"year": 2026, "month": 10, "date": 9, "hours": 20, "minutes": 53, "utc": true}},
            "y": {"field": "lv", "type": "quantitative", "scale": {"domain": [-3.48, 96.13], "nice": false, "zero": false}, "axis": null}
          }
        },
        {
          "data": {"values": [{"lv": 50}]},
          "mark": {"type": "rule", "color": "#b2b5be", "strokeWidth": 1, "strokeDash": [4, 4]},
          "encoding": {
            "x": {"datum": {"year": 2026, "month": 1, "date": 9, "hours": 11, "minutes": 25, "utc": true}, "type": "temporal", "axis": null},
            "x2": {"datum": {"year": 2026, "month": 10, "date": 9, "hours": 20, "minutes": 53, "utc": true}},
            "y": {"field": "lv", "type": "quantitative", "scale": {"domain": [-3.48, 96.13], "nice": false, "zero": false}, "axis": null}
          }
        },
        {
          "data": {"values": [{}]},
          "mark": {"type": "rule", "color": "#e0e3eb", "strokeWidth": 1},
          "encoding": {
            "x": {"datum": {"year": 2026, "month": 10, "date": 9, "hours": 20, "minutes": 53, "utc": true}, "type": "temporal", "axis": null}
          }
        },
        {
          "data": {"values": [{}]},
          "mark": {"type": "rule", "color": "#e0e3eb", "strokeWidth": 1},
          "encoding": {
            "y": {"datum": 9.96, "type": "quantitative", "scale": {"domain": [-3.48, 96.13], "nice": false, "zero": false}, "axis": null}
          }
        },
        {
          "data": {"name": "xrp"},
          "transform": [{"filter": "datum.rsi <= 30 && utcmonth(datum.date) < 2"}],
          "mark": {"type": "area", "fill": {"gradient": "linear", "x1": 0, "y1": 0, "x2": 0, "y2": 1, "stops": [{"offset": 0, "color": "rgba(242,54,69,0)"}, {"offset": 1, "color": "rgba(242,54,69,0.3)"}]}},
          "encoding": {
            "x": {"field": "date", "type": "temporal", "axis": null},
            "y": {"field": "rsi", "type": "quantitative", "scale": {"domain": [-3.48, 96.13], "nice": false, "zero": false}, "axis": null},
            "y2": {"datum": 30}
          }
        },
        {
          "data": {"name": "xrp"},
          "transform": [{"filter": "datum.rsi <= 30 && utcmonth(datum.date) == 5 && utcdate(datum.date) < 8"}],
          "mark": {"type": "area", "fill": {"gradient": "linear", "x1": 0, "y1": 0, "x2": 0, "y2": 1, "stops": [{"offset": 0, "color": "rgba(242,54,69,0)"}, {"offset": 1, "color": "rgba(242,54,69,0.3)"}]}},
          "encoding": {
            "x": {"field": "date", "type": "temporal", "axis": null},
            "y": {"field": "rsi", "type": "quantitative", "scale": {"domain": [-3.48, 96.13], "nice": false, "zero": false}, "axis": null},
            "y2": {"datum": 30}
          }
        },
        {
          "data": {"name": "xrp"},
          "transform": [{"filter": "datum.rsi >= 70"}],
          "mark": {"type": "area", "fill": {"gradient": "linear", "x1": 0, "y1": 0, "x2": 0, "y2": 1, "stops": [{"offset": 0, "color": "rgba(8,153,129,0.45)"}, {"offset": 1, "color": "rgba(8,153,129,0)"}]}},
          "encoding": {
            "x": {"field": "date", "type": "temporal", "axis": null},
            "y": {"field": "rsi", "type": "quantitative", "scale": {"domain": [-3.48, 96.13], "nice": false, "zero": false}, "axis": null},
            "y2": {"datum": 70}
          }
        },
        {
          "data": {"name": "xrp"},
          "mark": {"type": "line", "color": "#9c27b0", "strokeWidth": 2},
          "encoding": {
            "x": {"field": "date", "type": "temporal", "axis": null},
            "y": {"field": "rsi", "type": "quantitative", "scale": {"domain": [-3.48, 96.13], "nice": false, "zero": false}, "axis": null}
          }
        },
        {
          "data": {"values": [{"lv": 20}, {"lv": 40}, {"lv": 60}, {"lv": 80}]},
          "mark": {"type": "text", "align": "left", "baseline": "middle", "fontSize": 13, "color": "#b2b5be", "dx": 11},
          "encoding": {
            "x": {"datum": {"year": 2026, "month": 10, "date": 10, "hours": 2, "minutes": 24, "utc": true}, "type": "temporal", "axis": null},
            "y": {"field": "lv", "type": "quantitative", "scale": {"domain": [-3.48, 96.13], "nice": false, "zero": false}, "axis": null},
            "text": {"field": "lv", "type": "quantitative", "format": ".2f"}
          }
        },
        {
          "data": {"values": [{"m": "2026-02-01"}, {"m": "2026-03-01"}, {"m": "2026-04-01"}, {"m": "2026-05-01"}, {"m": "2026-06-01"}, {"m": "2026-07-01"}, {"m": "2026-08-01"}, {"m": "2026-09-01"}, {"m": "2026-10-01"}]},
          "mark": {"type": "text", "align": "center", "baseline": "middle", "fontSize": 13, "color": "#a9acb4"},
          "encoding": {
            "x": {"field": "m", "type": "temporal", "axis": null},
            "y": {"datum": 2.85, "type": "quantitative", "scale": {"domain": [-3.48, 96.13], "nice": false, "zero": false}, "axis": null},
            "text": {"field": "m", "timeUnit": "utcmonth", "type": "temporal", "format": "%b"}
          }
        },
        {
          "data": {"values": [{}]},
          "mark": {"type": "rect", "color": "#9c27b0", "cornerRadius": 2},
          "encoding": {
            "x": {"datum": {"year": 2026, "month": 10, "date": 10, "hours": 2, "minutes": 24, "utc": true}, "type": "temporal", "axis": null},
            "x2": {"datum": {"year": 2026, "month": 10, "date": 22, "hours": 4, "minutes": 34, "utc": true}},
            "y": {"datum": 73.99, "type": "quantitative", "scale": {"domain": [-3.48, 96.13], "nice": false, "zero": false}, "axis": null},
            "y2": {"datum": 65.69}
          }
        },
        {
          "data": {"values": [{}]},
          "mark": {"type": "text", "text": "69.90", "align": "left", "baseline": "middle", "fontSize": 13, "color": "white", "dx": 11},
          "encoding": {
            "x": {"datum": {"year": 2026, "month": 10, "date": 10, "hours": 2, "minutes": 24, "utc": true}, "type": "temporal", "axis": null},
            "y": {"datum": 69.9, "type": "quantitative", "scale": {"domain": [-3.48, 96.13], "nice": false, "zero": false}, "axis": null}
          }
        }
      ]
    }
  ]
}
